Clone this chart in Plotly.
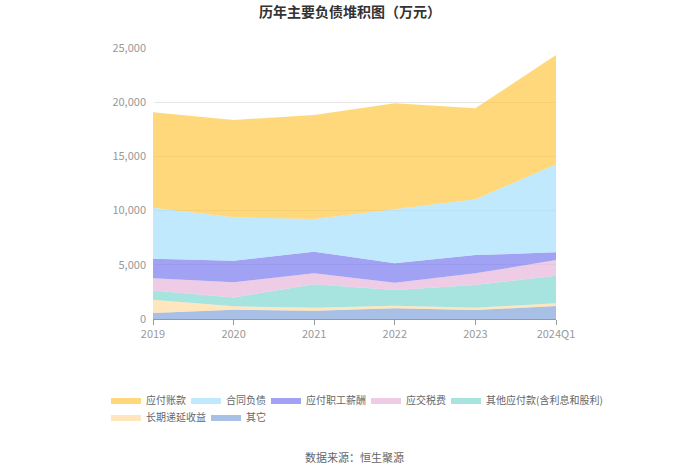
import plotly.graph_objects as go

categories = ["2019", "2020", "2021", "2022", "2023", "2024Q1"]

qita = [550, 860, 770, 990, 830, 1200]                # 其它
changqi = [1230, 310, 270, 240, 210, 250]             # 长期递延收益
qita_yingfu = [850, 820, 2160, 1450, 2100, 2550]      # 其他应付款(含利息和股利)
yingjiao = [1140, 1400, 1010, 670, 1070, 1440]        # 应交税费
zhigong = [1790, 1990, 2000, 1790, 1690, 710]         # 应付职工薪酬
hetong = [4710, 4000, 3020, 5010, 5140, 8120]         # 合同负债
zhangkuan = [8800, 8980, 9590, 9750, 8400, 10080]     # 应付账款

series_names = ["其它", "长期递延收益", "其他应付款(含利息和股利)", "应交税费",
                "应付职工薪酬", "合同负债", "应付账款"]
series_vals = [qita, changqi, qita_yingfu, yingjiao, zhigong, hetong, zhangkuan]
legend_colors = ["#85A5DB", "#FFD591", "#78D6D0", "#E8B7DA", "#7A7AF0", "#A5DFFC", "#FFC53D"]
fill_colors = ["rgba(133,165,219,0.7)", "rgba(255,213,145,0.6)", "rgba(120,214,208,0.65)",
               "rgba(232,183,218,0.7)", "rgba(122,122,240,0.7)", "rgba(165,223,252,0.7)",
               "rgba(253,197,61,0.68)"]

# legend layout: one legend box per entry (text start px, row centre px)
legend_ids = ["legend7", "legend6", "legend5", "legend4", "legend3", "legend2", "legend"]
legend_text_x = [245, 145, 485, 405, 305, 225, 145]
legend_row_y = [417, 417, 400, 400, 400, 400, 400]

xpos = list(range(len(categories)))

fig = go.Figure()
for name, vals, lc, fc, lg in zip(series_names, series_vals, legend_colors, fill_colors,
                                  legend_ids):
    fig.add_trace(go.Scatter(
        x=xpos, y=vals, name=name, mode="lines",
        stackgroup="one", line=dict(width=0, color=lc), fillcolor=fc,
        legend=lg,
    ))

PL, PT, PW, PH = 153, 48, 403, 271
legend_layouts = {}
for lg, tx, ty in zip(legend_ids, legend_text_x, legend_row_y):
    legend_layouts[lg] = dict(
        orientation="h", xanchor="left", yanchor="middle",
        x=(tx - 39 - PL) / PW, y=(PT + PH - ty) / PH,
        font=dict(size=10, color="#666"), itemwidth=30, bgcolor="rgba(0,0,0,0)")

fig.update_layout(
    width=700, height=474,
    margin=dict(l=PL, r=700 - PL - PW, t=PT, b=474 - PT - PH),
    paper_bgcolor="white", plot_bgcolor="white",
    font=dict(family="Noto Sans CJK SC, sans-serif", size=11, color="#666"),
    title=dict(text="<b>历年主要负债堆积图（万元）</b>", x=0.5, xanchor="center",
               y=1 - 12 / 474, yanchor="middle", font=dict(size=14, color="#333")),
    xaxis=dict(showgrid=False, showline=True, linecolor="#999", ticks="outside",
               tickcolor="#999", ticklen=5, tickfont=dict(color="#999", size=11),
               range=[0, 5], tickmode="array", tickvals=xpos, ticktext=categories),
    yaxis=dict(range=[0, 25000], dtick=5000, tickformat=",", showgrid=True,
               gridcolor="#e6e6e6", zeroline=False, showline=False,
               tickfont=dict(color="#999", size=11), ticks="", ticklabelstandoff=6),
    showlegend=True,
    **legend_layouts,
)

fig.add_annotation(text="数据来源：恒生聚源", x=0.5, xref="paper", y=(PT + PH - 457) / PH,
                   yref="paper", xanchor="center", yanchor="middle", showarrow=False,
                   font=dict(size=11, color="#666"))

fig.write_html("out.html", config={"displayModeBar": False},
               post_script="document.body.style.margin='0';")
